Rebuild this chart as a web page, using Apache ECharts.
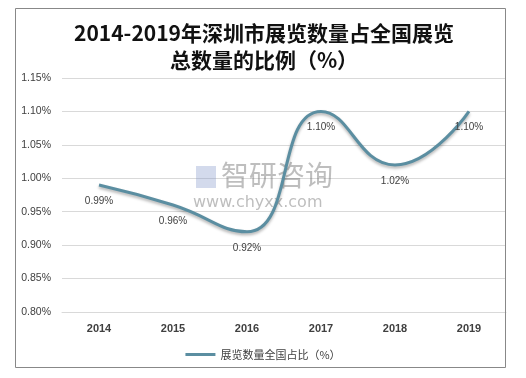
<!DOCTYPE html>
<html><head><meta charset="utf-8">
<script src="https://cdn.jsdelivr.net/npm/echarts@6/dist/echarts.min.js"></script>
<style>html,body{margin:0;padding:0;background:#fff}#c{width:526px;height:378px}</style>
</head><body><div id="c"></div>
<script>
var categories = ['2014','2015','2016','2017','2018','2019'];
var values = [0.99, 0.96, 0.92, 1.10, 1.02, 1.10];
var seriesName = '展览数量全国占比（%）';
var titleText = '2014-2019年深圳市展览数量占全国展览\n总数量的比例（%）';

var chart = echarts.init(document.getElementById('c'));
chart.setOption({
  backgroundColor: '#fff',
  animation: false,
  title: {
    text: titleText, left: 259, top: 15, textAlign: 'center',
    textStyle: {fontFamily: 'Noto Sans CJK SC', fontSize: 21, fontWeight: 'bold', color: '#111', lineHeight: 27}
  },
  graphic: [
    {type: 'rect', shape: {x: 15.5, y: 8.5, width: 490, height: 359}, style: {fill: 'none', stroke: '#888', lineWidth: 1}, z: 100},
    {type: 'text', left: 221, top: 161, style: {text: '智研咨询', font: '28px "Noto Sans CJK SC"', fill: 'rgba(110,110,110,0.45)'}, z: 1},
    {type: 'text', left: 193, top: 195, style: {text: 'www.chyxx.com', font: '16px "DejaVu Sans"', fill: 'rgba(110,110,110,0.45)'}, z: 1},
    {type: 'rect', shape: {x: 196, y: 166, width: 20, height: 22}, style: {fill: 'rgba(130,150,200,0.35)'}, z: 1}
  ],
  grid: {left: 62, right: 20, top: 78, bottom: 66},
  legend: {
    data: [seriesName], left: 'center', top: 344, itemWidth: 30, itemHeight: 3, itemGap: 4,
    icon: 'rect',
    textStyle: {fontFamily: 'Noto Sans CJK SC', fontSize: 11, color: '#404040'}
  },
  xAxis: {
    type: 'category', data: categories, boundaryGap: true,
    axisLine: {show: true, lineStyle: {color: '#d9d9d9'}}, axisTick: {show: false},
    axisLabel: {fontFamily: 'Liberation Sans', fontWeight: 'bold', fontSize: 11, color: '#404040', margin: 11}
  },
  yAxis: {
    type: 'value', min: 0.80, max: 1.15, interval: 0.05,
    axisLine: {show: false}, axisTick: {show: false},
    splitLine: {lineStyle: {color: '#d9d9d9'}},
    axisLabel: {fontFamily: 'Liberation Sans', fontSize: 10.5, color: '#404040', margin: 11,
      formatter: function(v){return v.toFixed(2) + '%';}}
  },
  series: [{
    name: seriesName, type: 'line', data: values, smooth: 0.5,
    symbol: 'emptyCircle', symbolSize: 0, showSymbol: true, z: 5,
    lineStyle: {color: '#5b8ea1', width: 3, shadowColor: 'rgba(0,0,0,0.3)', shadowBlur: 3, shadowOffsetY: 2},
    itemStyle: {color: '#5b8ea1', borderWidth: 0},
    label: {show: true, position: 'bottom', distance: 11, fontFamily: 'Liberation Sans', fontSize: 10, color: '#404040',
      formatter: function(p){return p.value.toFixed(2) + '%';}}
  }]
});
</script></body></html>
